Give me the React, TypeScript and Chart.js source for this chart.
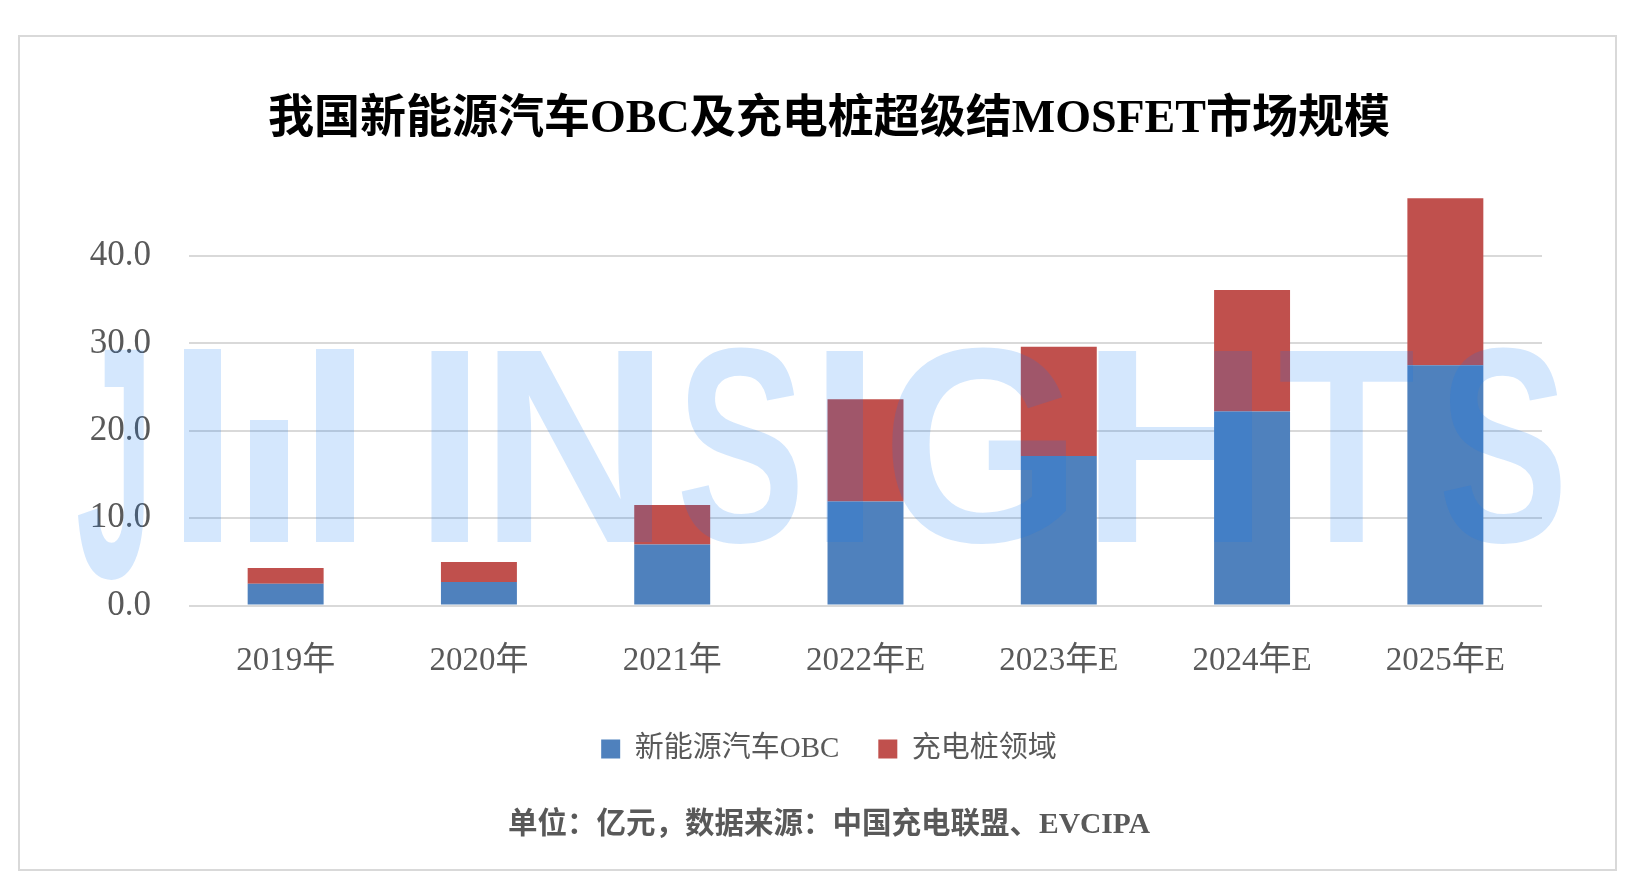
import React, { useEffect, useRef } from "react";
import { Chart, registerables } from "chart.js";

Chart.register(...registerables);

const categories = ["2019年", "2020年", "2021年", "2022年E", "2023年E", "2024年E", "2025年E"];
const obcValues = [2.5, 2.7, 7.0, 11.9, 17.1, 22.2, 27.5];
const chargingValues = [1.8, 2.3, 4.5, 11.7, 12.5, 13.9, 19.1];
const seriesNames = ["新能源汽车OBC", "充电桩领域"];
const titleText = "我国新能源汽车OBC及充电桩超级结MOSFET市场规模";
const footerText = "单位：亿元，数据来源：中国充电联盟、EVCIPA";
const yTickValues = [0, 10, 20, 30, 40];

const SERIF = "'Liberation Serif', 'Noto Sans CJK SC', serif";

// watermark glyph boxes: [char, left, right, top, bottom]
const WM_GLYPHS: [string, number, number, number, number][] = [
  ["J", 78, 144, 349, 580],
  ["I", 431, 469, 349, 542],
  ["N", 497, 652, 349, 542],
  ["S", 681, 798, 347, 544],
  ["I", 826, 864, 349, 542],
  ["G", 892, 1067, 347, 544],
  ["H", 1098, 1252, 349, 542],
  ["T", 1280, 1414, 349, 542],
  ["S", 1443, 1561, 347, 544],
];
const WM_BARS: [number, number, number, number][] = [
  [184, 221, 349, 542],
  [250, 288, 420, 542],
  [316, 354, 349, 542],
];

const framePlugin = {
  id: "frame",
  beforeDraw(chart: any) {
    const ctx = chart.ctx;
    ctx.save();
    ctx.strokeStyle = "#D9D9D9";
    ctx.lineWidth = 2;
    ctx.strokeRect(19, 36, 1597, 834);
    ctx.restore();
  },
};

const watermarkPlugin = {
  id: "watermark",
  afterDraw(chart: any) {
    const ctx = chart.ctx;
    ctx.save();
    ctx.fillStyle = "rgba(9,118,243,0.175)";
    ctx.font = "bold 200px 'Liberation Sans', Arial, sans-serif";
    ctx.textBaseline = "alphabetic";
    ctx.textAlign = "left";
    for (const [ch, x0, x1, y0, y1] of WM_GLYPHS) {
      const m = ctx.measureText(ch);
      const inkL = -m.actualBoundingBoxLeft;
      const inkR = m.actualBoundingBoxRight;
      const inkT = -m.actualBoundingBoxAscent;
      const inkB = m.actualBoundingBoxDescent;
      const sx = (x1 - x0) / (inkR - inkL);
      const sy = (y1 - y0) / (inkB - inkT);
      ctx.save();
      ctx.translate(x0, y0);
      ctx.scale(sx, sy);
      ctx.fillText(ch, -inkL, -inkT);
      ctx.restore();
    }
    for (const [x0, x1, y0, y1] of WM_BARS) {
      ctx.fillRect(x0, y0, x1 - x0, y1 - y0);
    }
    ctx.restore();
  },
};

export default function App() {
  const ref = useRef<HTMLCanvasElement | null>(null);

  useEffect(() => {
    if (!ref.current) return;
    const chart = new Chart(ref.current, {
      type: "bar",
      data: {
        labels: categories,
        datasets: [
          {
            label: seriesNames[0],
            data: obcValues,
            backgroundColor: "#4F81BD",
            borderWidth: 0,
            barPercentage: 0.393,
            categoryPercentage: 1,
          },
          {
            label: seriesNames[1],
            data: chargingValues,
            backgroundColor: "#C0504D",
            borderWidth: 0,
            barPercentage: 0.393,
            categoryPercentage: 1,
          },
        ],
      },
      options: {
        responsive: false,
        animation: false,
        devicePixelRatio: 1,
        layout: { padding: { left: 85, right: 58, top: 0, bottom: 0 } },
        scales: {
          x: {
            stacked: true,
            grid: { display: false, drawTicks: false },
            border: { display: false },
            ticks: {
              color: "#595959",
              padding: 36,
              font: { family: SERIF, size: 33 },
              maxRotation: 0,
            },
            afterFit: (scale: any) => {
              scale.height = 90;
            },
          },
          y: {
            stacked: true,
            min: 0,
            max: 48,
            grid: { color: "#D9D9D9", lineWidth: 2, drawTicks: false },
            border: { display: false },
            ticks: {
              stepSize: 10,
              color: "#595959",
              padding: 38,
              font: { family: SERIF, size: 35 },
              callback: (v: any) => Number(v).toFixed(1),
            },
            afterBuildTicks: (axis: any) => {
              axis.ticks = yTickValues.map((v) => ({ value: v }));
            },
            afterFit: (scale: any) => {
              scale.width = 104;
            },
          },
          spacer: {
            type: "linear",
            position: "right",
            display: true,
            grid: { display: false, drawTicks: false },
            border: { display: false },
            ticks: { display: false },
            afterFit: (scale: any) => {
              scale.width = 31;
            },
          },
        },
        plugins: {
          title: {
            display: true,
            text: titleText,
            color: "#000000",
            font: { family: SERIF, size: 46, weight: "bold" },
            padding: { top: 92.4, bottom: 38.4 },
          },
          legend: {
            display: true,
            position: "bottom",
            labels: {
              boxWidth: 19,
              boxHeight: 19,
              padding: 39,
              color: "#595959",
              font: { family: SERIF, size: 29 },
            },
          },
          subtitle: {
            display: true,
            position: "bottom",
            text: footerText,
            color: "#595959",
            font: { family: SERIF, size: 29.5, weight: "bold" },
            padding: { top: 34, bottom: 50 },
          },
          tooltip: { enabled: false },
        },
      },
      plugins: [framePlugin, watermarkPlugin],
    });
    return () => chart.destroy();
  }, []);

  return (
    <div style={{ position: "absolute", left: 0, top: 0, width: 1631, height: 893, background: "#fff" }}>
      <canvas ref={ref} width={1631} height={893} style={{ width: 1631, height: 893, display: "block" }} />
    </div>
  );
}
